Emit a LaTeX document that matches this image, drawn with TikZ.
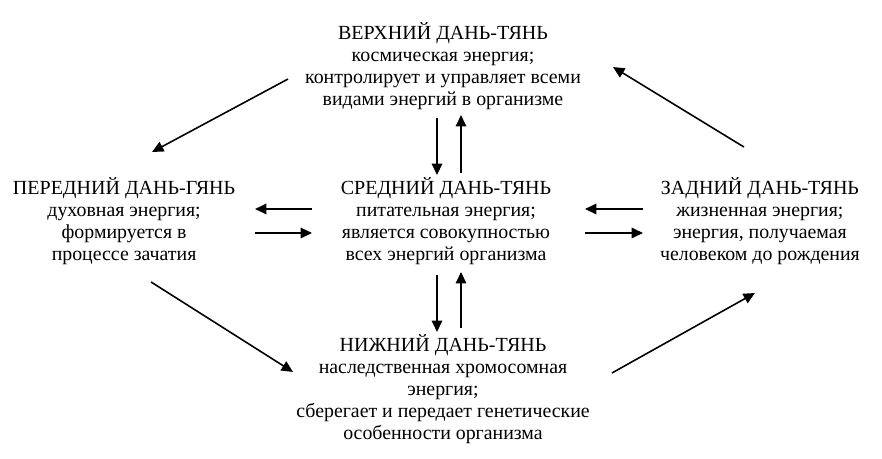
\documentclass[tikz,border=0pt]{standalone}
\usepackage{fontspec}
\setmainfont{Liberation Serif}
\usepackage{tikz}
\usetikzlibrary{arrows.meta, positioning, calc}

\newcommand{\dtitle}[1]{{\fontsize{11.4}{12.5}\selectfont #1}}

\begin{document}
\begin{tikzpicture}[x=0.02cm, y=-0.02cm, on grid,
    dantian/.style={align=center, inner sep=0pt, font=\fontsize{11.3}{12.5}\selectfont},
    arr/.style={-{Triangle[length=6.5pt,width=6pt]}, line width=0.9pt}]

                        \useasboundingbox (0,0) rectangle (882,459);

                        % Nodes for the five dan-tian
                        \node (mid) [dantian] at (446,221) {\dtitle{СРЕДНИЙ ДАНЬ-ТЯНЬ}\\питательная энергия;\\является совокупностью\\всех энергий организма};
                        \node (top) [dantian, above=3.09cm of mid, xshift=-0.06cm] {\dtitle{ВЕРХНИЙ ДАНЬ-ТЯНЬ}\\космическая энергия;\\контролирует и управляет всеми\\видами энергий в организме};
                        \node (left) [dantian, left=6.44cm of mid] {\dtitle{ПЕРЕДНИЙ ДАНЬ-ГЯНЬ}\\духовная энергия;\\формируется в\\процессе зачатия};
                        \node (right) [dantian, right=6.28cm of mid] {\dtitle{ЗАДНИЙ ДАНЬ-ТЯНЬ}\\жизненная энергия;\\энергия, получаемая\\человеком до рождения};
                        \node (bottom) [dantian, below=3.37cm of mid, xshift=-0.06cm] {\dtitle{НИЖНИЙ ДАНЬ-ТЯНЬ}\\наследственная хромосомная\\энергия;\\сберегает и передает генетические\\особенности организма};

                        % Outer circle of arrows
                        \draw[arr] ([shift={(-155,12.5)}]top.center) -- ([shift={(28,-69)}]left.center);
                        \draw[arr] ([shift={(27,61)}]left.center) -- ([shift={(-150,-17.5)}]bottom.center);
                        \draw[arr] ([shift={(169,-16.5)}]bottom.center) -- ([shift={(-5,72)}]right.center);
                        \draw[arr] ([shift={(-16,-74)}]right.center) -- ([shift={(170,0.5)}]top.center);

                        % Arrows to and from the middle
                        \draw[arr] ([shift={(-6,51.5)}]top.center) -- ([shift={(-9,-46)}]mid.center);
                        \draw[arr] ([shift={(15,-48)}]mid.center) -- ([shift={(18,48.5)}]top.center);
                        \draw[arr] ([shift={(-9,54)}]mid.center) -- ([shift={(-6,-57.5)}]bottom.center);
                        \draw[arr] ([shift={(18,-61.5)}]bottom.center) -- ([shift={(15,51)}]mid.center);
                        \draw[arr] ([shift={(-134,-12)}]mid.center) -- ([shift={(131,-12)}]left.center);
                        \draw[arr] ([shift={(131,12)}]left.center) -- ([shift={(-134,12)}]mid.center);
                        \draw[arr] ([shift={(-117,-12)}]right.center) -- ([shift={(139,-12)}]mid.center);
                        \draw[arr] ([shift={(139,12)}]mid.center) -- ([shift={(-117,12)}]right.center);
                \end{tikzpicture}
\end{document}
